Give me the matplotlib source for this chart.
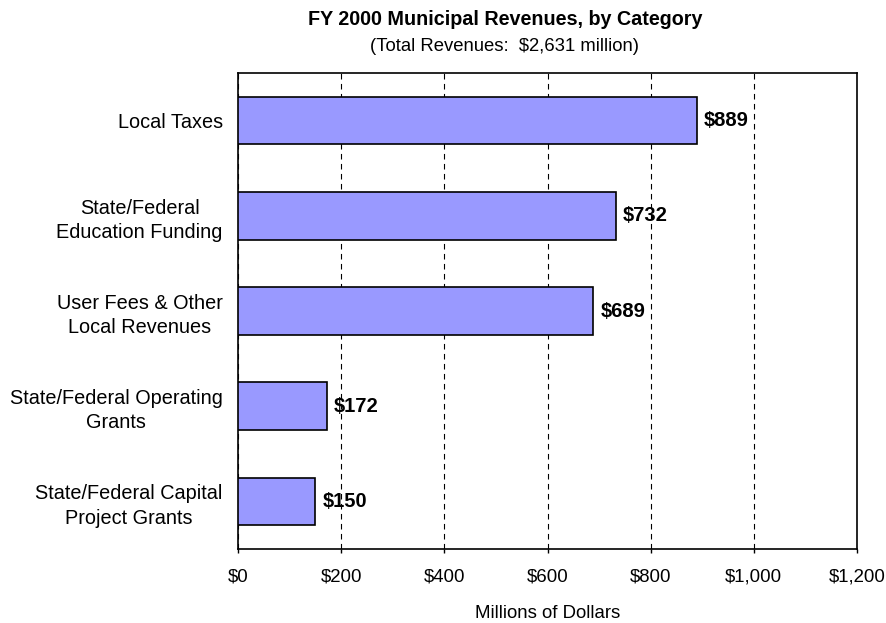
import matplotlib.pyplot as plt

plt.rcParams['font.family'] = ['Liberation Sans', 'DejaVu Sans']

categories = ["Local Taxes",
              "State/Federal\nEducation Funding",
              "User Fees & Other\nLocal Revenues",
              "State/Federal Operating\nGrants",
              "State/Federal Capital\nProject Grants"]
values = [889, 732, 689, 172, 150]
xticks = [0, 200, 400, 600, 800, 1000, 1200]
xtick_labels = ["$0", "$200", "$400", "$600", "$800", "$1,000", "$1,200"]

fig = plt.figure(figsize=(8.87, 6.23), dpi=100)
ax = fig.add_axes([0.2683, 0.1188, 0.6979, 0.764])

pos = list(range(len(categories)))
ax.barh(pos, values, height=0.5, color='#9999FF', edgecolor='black', linewidth=1.2, zorder=3)
for p, v in zip(pos, values):
    ax.annotate("$%d" % v, (v, p), xytext=(5, 0), textcoords='offset points',
                va='center', ha='left', fontsize=14.5, fontweight='bold', zorder=4)

ax.set_xlim(0, 1200)
ax.set_ylim(len(categories) - 0.5, -0.5)
ax.set_xticks(xticks)
ax.set_xticklabels(xtick_labels, fontsize=13.4)
ax.set_yticks(pos)
ax.set_yticklabels(categories, fontsize=14.3, multialignment='center', linespacing=1.35)
ax.tick_params(axis='y', length=0, pad=11)
ax.tick_params(axis='x', length=3, direction='out', pad=11, width=1)
ax.grid(axis='x', linestyle=(0, (5, 4)), color='black', linewidth=0.8, zorder=0)
for s in ax.spines.values():
    s.set_linewidth(1.2)

ax.set_xlabel("Millions of Dollars", fontsize=13.4, labelpad=14)
fig.text(0.570, 0.969, "FY 2000 Municipal Revenues, by Category", ha='center', va='center',
         fontsize=14.2, fontweight='bold')
fig.text(0.569, 0.926, "(Total Revenues:  $2,631 million)", ha='center', va='center', fontsize=13.3)

fig.savefig("out.png", dpi=100)
